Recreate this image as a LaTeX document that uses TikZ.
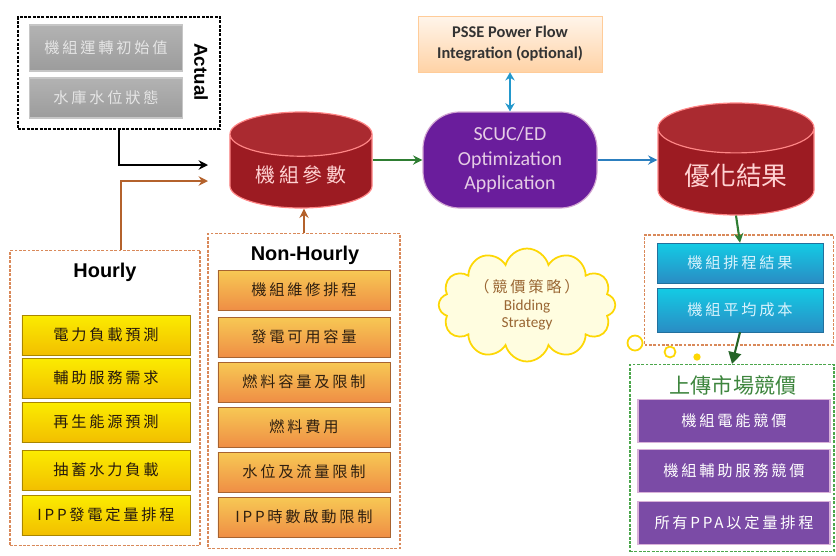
\documentclass[tikz,border=0pt]{standalone}
\usepackage{fontspec}
\setmainfont{Carlito}
\setsansfont{Liberation Sans}
\newfontfamily\cjk[LetterSpace=18]{Noto Sans CJK TC}
\newfontfamily\cjkplain{Noto Sans CJK TC}
\usepackage{tikz}
\usetikzlibrary{arrows.meta,positioning,calc,shapes.geometric,shapes.symbols}
\definecolor{dbred}{HTML}{9C1B22}
\definecolor{dbtop}{HTML}{AA2A30}
\definecolor{optpurple}{HTML}{6A1D9C}
\definecolor{mktpurple}{HTML}{7B4BA6}
\definecolor{taskblue}{HTML}{2A8CC4}
\definecolor{hryellow}{HTML}{F2BF00}
\definecolor{nhorange}{HTML}{EF8E45}
\definecolor{arrbrown}{HTML}{B4622C}
\definecolor{arrgreen}{HTML}{2E7D32}
\definecolor{arrblue}{HTML}{2C7FBF}
\definecolor{grpline}{HTML}{D9895A}
\definecolor{mktgreen}{HTML}{4CA64C}

\begin{document}
\begin{tikzpicture}[x=0.03cm,y=-0.03cm,
  grpbox/.style={draw,dash pattern=on 2.5pt off 1.2pt,line width=0.9pt},
  item/.style={draw,inner sep=0pt,font=\cjk\fontsize{13}{15}\selectfont},
  graybox/.style={item,draw=gray!45,line width=1pt,top color=gray!60,bottom color=gray!78,text=gray!20,minimum width=4.59cm},
  hrbox/.style={item,draw=hryellow!70!black,top color=yellow!70!hryellow,bottom color=hryellow,text=black!80!brown,minimum width=5.04cm,minimum height=1.2cm},
  nhbox/.style={item,draw=nhorange!70!black,top color=nhorange!60!yellow!80!white,bottom color=nhorange,text=black!75!brown,minimum width=5.16cm,minimum height=1.2cm},
  bluebox/.style={item,draw=taskblue!80!black,top color=cyan!55!taskblue,bottom color=taskblue,text=white!85!cyan,minimum width=4.98cm},
  mktbox/.style={item,draw=violet!30,line width=1pt,fill=mktpurple,text=white,minimum width=5.76cm,minimum height=1.29cm},
  dbcyl/.style={cylinder,shape border rotate=90,aspect=0.45,anchor=shape center,draw=red!30!pink,line width=1pt,
    cylinder uses custom fill,cylinder body fill=dbred,cylinder end fill=dbtop,text=pink!70!white},
  title/.style={font=\sffamily\bfseries\fontsize{17}{19}\selectfont},
  arr/.style={line width=1.8pt,-{Stealth[length=8pt,width=8pt]}}
]
\useasboundingbox (0,0) rectangle (836,555);
\node[grpbox,minimum width=6.06cm,minimum height=3.36cm] (actual) at (119,73) {};
\node[grpbox,draw=grpline,minimum width=5.7cm,minimum height=8.85cm] (hourly) at (105,398) {};
\node[grpbox,draw=grpline,minimum width=5.76cm,minimum height=9.45cm] (nonhr) at (304,391) {};
\node[grpbox,draw=grpline,minimum width=5.67cm,minimum height=3.3cm] (grp) at (739,290) {};
\node[grpbox,draw=mktgreen,minimum width=6.12cm,minimum height=5.61cm] (mkt) at (732,458) {};

\node[graybox,minimum height=1.38cm] (a1) at (106,48) {機組運轉初始值};
\node[graybox,minimum height=1.2cm] (a2) at (106,98) {水庫水位狀態};
\node[rotate=-90,font=\sffamily\bfseries\fontsize{16}{18}\selectfont] (actlbl) at (201,72) {Actual};

\node[title] (hrlbl) at (105,272) {Hourly};
\foreach \t/\y [count=\i] in {電力負載預測/335,輔助服務需求/378,再生能源預測/422,抽蓄水力負載/470,IPP發電定量排程/515}
  \node[hrbox] (h\i) at (106,\y) {\t};

\node[title] (nhlbl) at (305,255) {Non-Hourly};
\foreach \t/\y [count=\i] in {機組維修排程/290,發電可用容量/337,燃料容量及限制/382,燃料費用/427,水位及流量限制/472,IPP時數啟動限制/517}
  \node[nhbox] (n\i) at (304,\y) {\t};

\node[dbcyl,minimum width=4.26cm,minimum height=2.88cm,font=\cjk\fontsize{17}{19}\selectfont] (param) at (301,160) {機組參數};
\node[draw=violet!35,line width=1pt,rounded corners=1.1cm,fill=optpurple,text=violet!20,
  minimum width=5.22cm,minimum height=2.88cm,align=center,
  font=\fontsize{17}{21}\selectfont] (opt) at (510,160) {SCUC/ED\\Optimization\\Application};
\node[draw=orange!40,top color=orange!8,bottom color=orange!35,text=black!80,align=center,
  minimum width=5.52cm,minimum height=1.68cm,font=\bfseries\fontsize{14}{18}\selectfont] (psse) at (510,44) {PSSE Power Flow\\Integration (optional)};
\node[dbcyl,minimum width=4.68cm,minimum height=3.36cm,font=\cjkplain\fontsize{22}{24}\selectfont] (res) at (736,159) {優化結果};

\node[bluebox,minimum height=1.2cm] (b1) at (740,263) {機組排程結果};
\node[bluebox,minimum height=1.32cm] (b2) at (740,310) {機組平均成本};

\node[text=mktgreen!80!black,font=\cjkplain\fontsize{18}{20}\selectfont] (mktlbl) at (733,385) {上傳市場競價};
\foreach \t/\y [count=\i] in {機組電能競價/421,機組輔助服務競價/471,所有PPA以定量排程/523}
  \node[mktbox] (m\i) at (734,\y) {\t};

\node[cloud,cloud puffs=12,aspect=2,draw=yellow!75!orange,line width=1.5pt,fill=yellow!12,
  minimum width=4.95cm,minimum height=2.4cm,align=center,text=brown!80!black,
  font=\fontsize{13}{15}\selectfont] (strat) at (527,305) {{\cjk（競價策略）}\\Bidding\\Strategy};
\node[circle,draw=yellow!75!orange,line width=1.5pt,fill=white,minimum size=0.45cm,inner sep=0pt] (c1) at (635,343) {};
\node[circle,draw=yellow!75!orange,line width=1.5pt,fill=white,minimum size=0.33cm,inner sep=0pt] (c2) at (670,352) {};
\node[circle,fill=yellow!75!orange,minimum size=0.22cm,inner sep=0pt] (c3) at (697,357) {};

\coordinate (inA) at (208,165);
\coordinate (inB) at (208,181);
\draw[arr,black] (actual.south) |- (inA);
\draw[arr,arrbrown] ($(hourly.north)+(16,0)$) |- (inB);
\draw[arr,arrbrown] (nonhr.north) -- (nonhr.north |- param.south);
\draw[arr,arrgreen] (param.east |- opt.west) -- (opt.west);
\draw[arr,arrblue] (opt.east) -- (opt.east -| res.west);
\draw[line width=1.8pt,arrblue!80!cyan,{Stealth[length=7pt,width=8pt]}-{Stealth[length=7pt,width=8pt]}] (psse.south) -- (opt.north);
\draw[arr,arrgreen] (res.south) -- (b1.north);
\draw[line width=1.8pt,arrgreen!80!black,-{Triangle[length=10pt,width=11pt]}] (b2.south) -- (mkt.north);
\end{tikzpicture}
\end{document}
